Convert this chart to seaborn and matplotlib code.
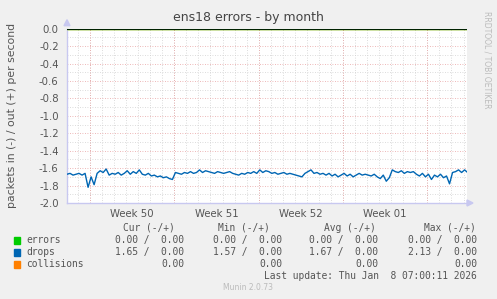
import numpy as np
import pandas as pd
import matplotlib
matplotlib.use("Agg")
import matplotlib.pyplot as plt
import seaborn as sns

# ---- data ----
step_days = 0.25
drops = [-1.67, -1.66, -1.68, -1.67, -1.66, -1.68, -1.66, -1.82, -1.70, -1.79,
         -1.66, -1.63, -1.65, -1.61, -1.68, -1.66, -1.67, -1.65, -1.68, -1.66,
         -1.63, -1.67, -1.64, -1.66, -1.62, -1.67, -1.68, -1.66, -1.69, -1.68,
         -1.70, -1.69, -1.71, -1.70, -1.72, -1.73, -1.65, -1.66, -1.67, -1.65,
         -1.66, -1.64, -1.66, -1.65, -1.62, -1.65, -1.63, -1.64, -1.65, -1.66,
         -1.64, -1.65, -1.66, -1.65, -1.64, -1.66, -1.67, -1.68, -1.66, -1.67,
         -1.65, -1.66, -1.64, -1.66, -1.62, -1.65, -1.63, -1.64, -1.66, -1.65,
         -1.67, -1.66, -1.65, -1.67, -1.66, -1.67, -1.68, -1.69, -1.70, -1.66,
         -1.64, -1.62, -1.66, -1.65, -1.67, -1.66, -1.68, -1.66, -1.69, -1.67,
         -1.70, -1.68, -1.66, -1.69, -1.67, -1.70, -1.68, -1.66, -1.68, -1.67,
         -1.68, -1.69, -1.67, -1.70, -1.72, -1.68, -1.75, -1.71, -1.62, -1.64,
         -1.65, -1.63, -1.66, -1.64, -1.65, -1.64, -1.67, -1.69, -1.66, -1.70,
         -1.67, -1.73, -1.68, -1.70, -1.67, -1.71, -1.69, -1.78, -1.65, -1.64,
         -1.62, -1.65, -1.62, -1.65]
errors = [0.0] * len(drops)
collisions = [0.0] * len(drops)

week_starts = [1.91, 8.91, 15.91, 22.91, 29.91]
week_labels = ["Week 50", "Week 51", "Week 52", "Week 01"]
x_max = 33.2
y_ticks = [0.0, -0.2, -0.4, -0.6, -0.8, -1.0, -1.2, -1.4, -1.6, -1.8, -2.0]

legend_names = ["errors", "drops", "collisions"]
legend_colors = ["#00CC00", "#0066B3", "#FF8000"]
cur_vals = ["0.00 /  0.00", "1.65 /  0.00", "0.00"]
min_vals = ["0.00 /  0.00", "1.57 /  0.00", "0.00"]
avg_vals = ["0.00 /  0.00", "1.67 /  0.00", "0.00"]
max_vals = ["0.00 /  0.00", "2.13 /  0.00", "0.00"]
col_headers = ["Cur (-/+)", "Min (-/+)", "Avg (-/+)", "Max (-/+)"]

x = [i * step_days for i in range(len(drops))]
df = pd.DataFrame({"t": x, "drops": drops, "errors": errors, "collisions": collisions})

sns.set_style("white")
plt.rcParams["font.family"] = ["DejaVu Sans"]

W, H = 497, 299
fig = plt.figure(figsize=(W / 100, H / 100), dpi=100, facecolor="#F0F0F0")
L, R, T, B = 67, 467, 28.7, 203
ax = fig.add_axes([L / W, 1 - B / H, (R - L) / W, (B - T) / H])
ax.set_facecolor("white")

ax.set_xlim(0, x_max)
ax.set_ylim(-2.0, 0.0)

# grid
minor_grid = dict(color="#D0D0D0", lw=0.6, ls=(0, (1, 2)), zorder=1)
major_grid = dict(color="#E8A0A0", lw=0.6, ls=(0, (1, 2)), zorder=1)
d = -0.09
while d <= x_max:
    if d > 0:
        ax.axvline(d, **minor_grid)
    d += 1.0
for yv in np.arange(-1.9, 0.0, 0.2):
    ax.axhline(yv, **minor_grid)
for wv in week_starts:
    ax.axvline(wv, **major_grid)
for yv in y_ticks[1:-1]:
    ax.axhline(yv, **major_grid)

sns.lineplot(data=df, x="t", y="collisions", ax=ax, color=legend_colors[2], lw=1, zorder=3)
sns.lineplot(data=df, x="t", y="errors", ax=ax, color=legend_colors[0], lw=1, zorder=3)
sns.lineplot(data=df, x="t", y="drops", ax=ax, color=legend_colors[1], lw=1, zorder=4)
ax.axhline(0.0, color="black", lw=1.2, zorder=5)

for s in ["top", "right"]:
    ax.spines[s].set_visible(False)
for s in ["left", "bottom"]:
    ax.spines[s].set_color("#C8C8F0")
    ax.spines[s].set_linewidth(1)

ax.set_yticks(y_ticks)
ax.set_yticklabels([f"{v:.1f}" for v in y_ticks])
mids = [(week_starts[i] + week_starts[i + 1]) / 2 for i in range(len(week_labels))]
ax.set_xticks(mids)
ax.set_xticklabels(week_labels)
ax.tick_params(axis="y", length=0, labelsize=7.3, colors="#555555", pad=6)
ax.tick_params(axis="x", length=0, labelsize=7.3, colors="#555555", pad=4)
ax.set_xlabel("")
ax.set_ylabel("")
fig.text(12 / W, 1 - 115 / H, "packets in (-) / out (+) per second", rotation=90, ha="center", va="center",
         fontsize=7.8, color="#555555")

# arrows
fig.patches.append(plt.Polygon([[ (L - 3) / W, 1 - (T - 3) / H], [(L + 3) / W, 1 - (T - 3) / H], [L / W, 1 - (T - 9) / H]],
                               closed=True, transform=fig.transFigure, color="#C8C8F0", zorder=10))
fig.patches.append(plt.Polygon([[(R + 0) / W, 1 - (B - 3) / H], [(R + 0) / W, 1 - (B + 3) / H], [(R + 6) / W, 1 - B / H]],
                               closed=True, transform=fig.transFigure, color="#C8C8F0", zorder=10))

fig.text(248 / W, 1 - 17 / H, "ens18 errors - by month", ha="center", va="center", fontsize=9, color="#444444")
fig.text(487 / W, 1 - 60 / H, "RRDTOOL / TOBI OETIKER", rotation=270, ha="center", va="center", fontsize=5.5, color="#BBBBBB")

mono = "DejaVu Sans Mono"
fs = 6.9
tc = "#555555"
col_right = [184, 282, 378, 477]
hdr_right = [175, 270, 376, 476]
for hr, h in zip(hdr_right, col_headers):
    fig.text(hr / W, 1 - 228 / H, h, ha="right", va="center", family=mono, fontsize=fs, color=tc)
row_y = [240, 252, 264]
for i in range(3):
    yy = 1 - row_y[i] / H
    fig.patches.append(plt.Rectangle(((14) / W, yy - 3.5 / H), 6 / W, 7 / H, transform=fig.transFigure,
                                     color=legend_colors[i], zorder=10))
    fig.text(26 / W, yy, legend_names[i], ha="left", va="center", family=mono, fontsize=fs, color=tc)
    for cr, vals in zip(col_right, [cur_vals, min_vals, avg_vals, max_vals]):
        fig.text(cr / W, yy, vals[i], ha="right", va="center", family=mono, fontsize=fs, color=tc)
fig.text(477 / W, 1 - 276 / H, "Last update: Thu Jan  8 07:00:11 2026", ha="right", va="center",
         family=mono, fontsize=fs, color=tc)
fig.text(248 / W, 1 - 288 / H, "Munin 2.0.73", ha="center", va="center", fontsize=5.5, color="#BBBBBB")

fig.savefig("out.png", dpi=100, facecolor=fig.get_facecolor())
